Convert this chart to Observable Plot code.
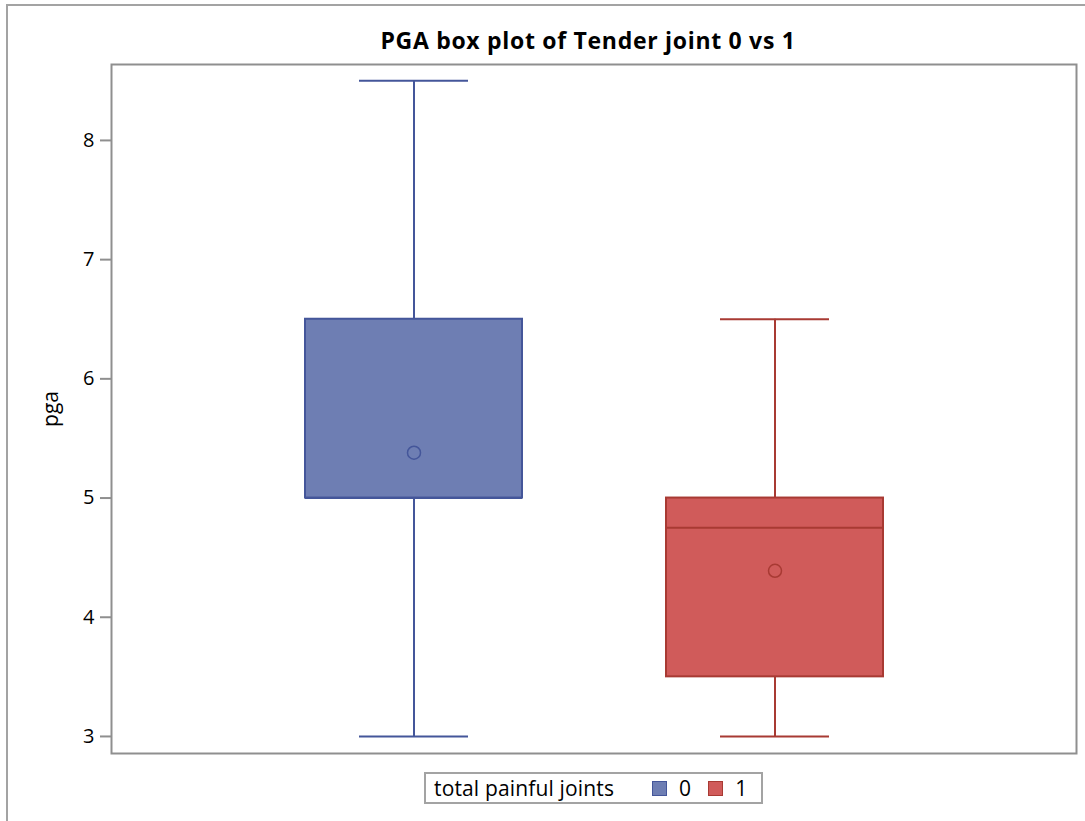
<!DOCTYPE html>
<html>
<head>
<meta charset="utf-8">
<script src="https://cdn.jsdelivr.net/npm/d3@7"></script>
<script src="https://cdn.jsdelivr.net/npm/@observablehq/plot@0.6"></script>
<style>
  html, body { margin: 0; padding: 0; background: #fff; overflow: hidden; }
  #wrap { position: relative; width: 1085px; height: 821px; overflow: hidden; font-family: "Open Sans", "Liberation Sans", Arial, sans-serif; }
  #outer { position: absolute; left: 6px; top: 4px; width: 1200px; height: 1000px; border: 2px solid #a3a3a3; box-sizing: border-box; }
  #title { position: absolute; left: 0; width: 1176px; top: 24px; text-align: center; font-weight: bold; font-size: 23px; letter-spacing: 0.7px; color: #000; }
  #chart { position: absolute; left: 0; top: 0; }
  #legend { position: absolute; left: 424px; top: 772px; width: 339px; height: 32px; border: 2px solid #a3a3a3; box-sizing: border-box; font-size: 21px; letter-spacing: 0.15px; color: #000; display: flex; align-items: center; line-height: 1; }
  #legend .lab { margin-left: 8px; }
  #legend .sw { display: inline-block; width: 15px; height: 15px; box-sizing: border-box; }
</style>
</head>
<body>
<div id="wrap">
  <div id="outer"></div>
  <div id="chart"></div>
  <div id="title">PGA box plot of Tender joint 0 vs 1</div>
  <div id="legend"></div>
</div>
<script>
// Data
const groups  = ["0", "1"];
const mins    = [3, 3];
const q1s     = [5, 3.5];
const medians = [5, 4.75];
const q3s     = [6.5, 5];
const maxs    = [8.5, 6.5];
const means   = [5.38, 4.39];
const yTicks  = [3, 4, 5, 6, 7, 8];
const legendTitle = "total painful joints";

const fills   = ["#6e7eb3", "#d05b5a"];
const strokes = ["#44569a", "#a83a33"];

const data = groups.map((g, i) => ({
  g, min: mins[i], q1: q1s[i], med: medians[i], q3: q3s[i], max: maxs[i], mean: means[i]
}));

const sc = d => strokes[groups.indexOf(d.g)];

const plot = Plot.plot({
  width: 1085,
  height: 760,
  marginTop: 64,
  marginBottom: 7,
  marginLeft: 111,
  marginRight: 9,
  style: {fontFamily: "'Open Sans', 'Liberation Sans', Arial, sans-serif", fontSize: "20px", background: "transparent"},
  x: {domain: groups, paddingInner: 0.4, paddingOuter: 0.5333, axis: null},
  y: {domain: [2.857, 8.637], ticks: yTicks, label: "pga"},
  color: {domain: groups, range: fills},
  marks: [
    Plot.axisY({ticks: yTicks, tickFormat: d3.format("d"), tickSize: 11, tickPadding: 6, stroke: "#8f8f8f", strokeWidth: 2,
      label: null, fontSize: 20, color: "#000"}),
    Plot.axisY({ticks: [], tickSize: 0, label: "pga", labelAnchor: "center", labelArrow: "none", labelOffset: 68, fontSize: 21, color: "#000"}),
    // whiskers
    Plot.ruleX(data, {x: "g", y1: "min", y2: "q1", stroke: sc, strokeWidth: 2}),
    Plot.ruleX(data, {x: "g", y1: "q3", y2: "max", stroke: sc, strokeWidth: 2}),
    // caps
    Plot.tickY(data, {x: "g", y: "min", stroke: sc, strokeWidth: 2, inset: 54}),
    Plot.tickY(data, {x: "g", y: "max", stroke: sc, strokeWidth: 2, inset: 54}),
    // boxes
    Plot.barY(data, {x: "g", y1: "q1", y2: "q3", fill: "g", stroke: sc, strokeWidth: 2}),
    // medians
    Plot.tickY(data, {x: "g", y: "med", stroke: sc, strokeWidth: 2}),
    // means
    Plot.dot(data, {x: "g", y: "mean", r: 6.5, fill: "none", stroke: sc, strokeWidth: 1.5}),
    Plot.frame({stroke: "#8f8f8f", strokeWidth: 2})
  ]
});
document.getElementById("chart").appendChild(plot);

// legend
const lg = document.getElementById("legend");
const lab = document.createElement("span");
lab.className = "lab";
lab.textContent = legendTitle;
lg.appendChild(lab);
groups.forEach((g, i) => {
  const sw = document.createElement("span");
  sw.className = "sw";
  sw.style.background = fills[i];
  sw.style.border = "1px solid " + strokes[i];
  sw.style.marginLeft = i === 0 ? "38px" : "17px";
  lg.appendChild(sw);
  const t = document.createElement("span");
  t.textContent = g;
  t.style.marginLeft = "12px";
  lg.appendChild(t);
});
</script>
</body>
</html>
